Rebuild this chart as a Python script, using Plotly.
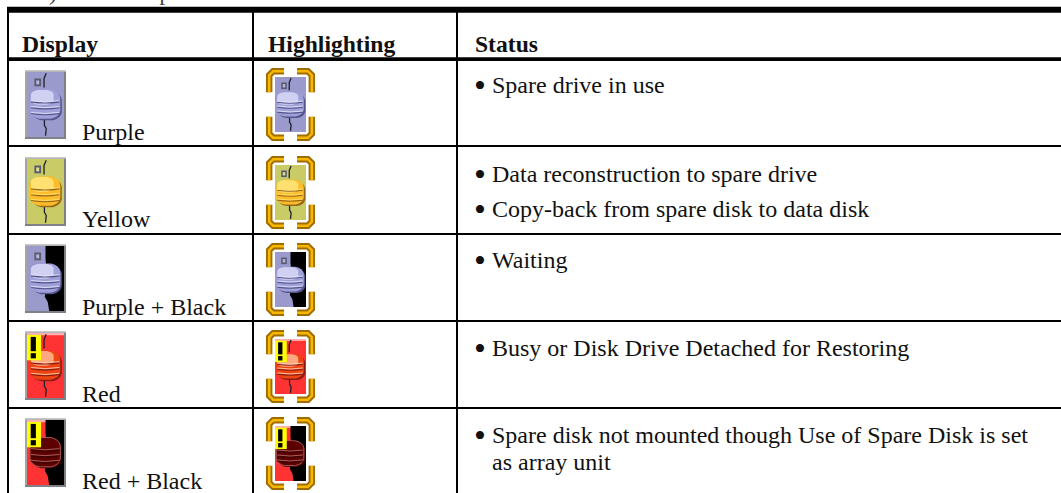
import plotly.graph_objects as go

HEADERS = ["Display", "Highlighting", "Status"]
DISPLAY_LABELS = ["Purple", "Yellow", "Purple + Black", "Red", "Red + Black"]
STATUS_LINES = [
    [("•", "Spare drive in use")],
    [("•", "Data reconstruction to spare drive"), ("•", "Copy-back from spare disk to data disk")],
    [("•", "Waiting")],
    [("•", "Busy or Disk Drive Detached for Restoring")],
    [("•", "Spare disk not mounted though Use of Spare Disk is set"), ("", "as array unit")],
]
CLIPPED_PREFIX = "5)"
CLIPPED_TITLE = "Hot Spare"

W, H = 1061, 493
COL_X = [8, 253, 457]
ROW_Y = [146, 234, 321, 408]
ICON_TOP = [70, 157, 244, 331, 418]
HL_TOP = [68, 156, 243, 330, 417]
LABEL_Y = [132, 219, 307, 394, 481]
STATUS_Y = [[85], [174, 209], [260], [348], [435, 462]]
PURPLE = dict(body="#9a9acc", light="#d0d0f2", mid="#a0a0d8", dark="#54548c", band="#e0e0f8", sq="#b8b8e0", edge=None)
YELLOW = dict(body="#c9cc66", light="#ffe070", mid="#fdbc28", dark="#97681c", band="#ffe070", sq="#e0e090", edge=None)
RED = dict(body="#ff3333", light="#ffa880", mid="#ee4412", dark="#8a1c14", band="#ffd0b0", sq="#ff9090", edge=None)
MAROON = dict(body="#ff3333", light="#5c0000", mid="#5c0000", dark="#3c0000", band="#b06868", sq="#ff9090", edge="#a85a5a")
STYLE = [
    dict(PURPLE, black=False, warn=False),
    dict(YELLOW, black=False, warn=False),
    dict(PURPLE, black=True, warn=False),
    dict(RED, black=False, warn=True),
    dict(MAROON, black=True, warn=True),
]

shapes, annos = [], []


def rect(x0, y0, x1, y1, fill):
    shapes.append(dict(type="rect", x0=x0, y0=y0, x1=x1, y1=y1, fillcolor=fill, line=dict(width=0), layer="above"))


def path(d, fill=None, lc=None, lw=1):
    s = dict(type="path", path=d, line=dict(color=lc or "rgba(0,0,0,0)", width=lw), layer="above")
    if fill:
        s["fillcolor"] = fill
    shapes.append(s)


def text(x, y, s, size, bold=False, color="#111111", paper=False):
    a = dict(x=x, y=y, text=f"<b>{s}</b>" if bold else s, showarrow=False, xanchor="left", yanchor="middle",
             align="left", borderpad=0, font=dict(family="Liberation Serif", size=size, color=color))
    if paper:
        a.update(yref="paper", xref="x")
    annos.append(a)


def drum(l, r, t, b):
    q = (b - t) * 0.22
    return (f"M{l},{t+q*1.3} Q{l+1},{t+q*.3} {l+(r-l)*.3},{t} L{l+(r-l)*.7},{t} Q{r-1},{t+q*.3} {r},{t+q*1.3} "
            f"L{r},{b-q*1.3} Q{r-1},{b-q*.3} {l+(r-l)*.7},{b} L{l+(r-l)*.3},{b} Q{l+1},{b-q*.3} {l},{b-q*1.3} Z")


def drive(x0, y0, x1, y1, st, wide):
    """Body of a drive icon in the box x0..x1, y0..y1."""
    w, h = x1 - x0, y1 - y0
    px = lambda f: x0 + w * f
    py = lambda f: y0 + h * f
    rect(x0, y0, x1, y1, st["body"])
    if st["warn"]:
        rect(x0, y0, x1, py(.035), "#ffb0b0")
    if st["black"]:
        path(f"M{px(.5)},{y0} L{x1},{y0} L{x1},{y1} L{px(.6)},{y1} L{px(.56)},{py(.86)} L{px(.48)},{py(.78)} "
             f"L{px(.55)},{py(.5)} L{px(.5)},{py(.2)} Z", fill="black")
    else:
        path(f"M{px(.52)},{py(.02)} L{px(.46)},{py(.1)} L{px(.46)},{py(.24)}", lc="#20202c", lw=1.3)
        path(f"M{px(.47)},{py(.7)} L{px(.47)},{py(.82)} L{px(.52)},{py(.87)} L{px(.5)},{py(.98)}", lc="#20202c", lw=1.3)
    if not st["warn"]:
        rect(px(.2), py(.1), px(.38), py(.22), "#5a5a70")
        rect(px(.25), py(.13), px(.33), py(.19), st["sq"])
    l, r, t, b = px(.04 if wide else .08), px(.93 if wide else .9), py(.27), py(.72)
    path(drum(l + 2, r + 1.5, t + 2, b + 1.5), fill=st["dark"])
    path(drum(l, r, t, b), fill=st["mid"], lc=st["edge"], lw=1 if st["edge"] else 0)
    path(drum(l + 1, r - w * .18, t + .5, t + (b - t) * .52), fill=st["light"])
    d = b - t
    for f in (.42, .62, .82):
        yy = t + d * f
        path(f"M{l+1},{yy} Q{(l+r)/2},{yy+d*.08} {r-1},{yy}", lc=st["dark"], lw=1.1)
        path(f"M{l+1},{yy-1.2} Q{(l+r)/2},{yy+d*.08-1.2} {r-1},{yy-1.2}", lc=st["band"], lw=.9)
    if st["warn"]:
        rect(x0, py(.03), px(.38), py(.42), "#ffff00")
        rect(px(.1), py(.06), px(.24), py(.28), "black")
        rect(px(.1), py(.31), px(.24), py(.39), "black")


def brackets(x0, y0, x1, y1):
    L, R, T, B = x0 + 3.2, x1 - 3.2, y0 + 3.2, y1 - 3.2
    for c, lw in (("#a06c00", 6.4, ), ("#f6b800", 2.6)):
        path(f"M{L+14.8},{T} L{L+4},{T} L{L},{T+4} L{L},{T+21}", lc=c, lw=lw)
        path(f"M{R-14.8},{T} L{R-4},{T} L{R},{T+4} L{R},{T+21}", lc=c, lw=lw)
        path(f"M{L+14.8},{B} L{L+4},{B} L{L},{B-4} L{L},{B-21}", lc=c, lw=lw)
        path(f"M{R-14.8},{B} L{R-4},{B} L{R},{B-4} L{R},{B-21}", lc=c, lw=lw)


# table rules
rect(COL_X[0] - 1, 7, COL_X[0] + 1, H, "black")
rect(COL_X[1] - 1, 10, COL_X[1] + 1, H, "black")
rect(COL_X[2] - 1, 10, COL_X[2] + 1, H, "black")
rect(COL_X[0] - 1, 6.7, W, 12.7, "black")
rect(COL_X[0] - 1, 57.3, W, 61, "black")
for y in ROW_Y:
    rect(COL_X[0], y - 1, W, y + 1, "black")

text(36, 1 + 8 / H, CLIPPED_PREFIX, 24, color="#444444", paper=True)
text(103, 1 + 8 / H, CLIPPED_TITLE, 24, color="#444444", paper=True)
for x, s in zip((21, 267, 474), HEADERS):
    text(x, 44, s, 23.6, bold=True)

for i, st in enumerate(STYLE):
    y = ICON_TOP[i]
    rect(25, y, 66, y + 69, "#a4a4a4")
    rect(25, y, 66, y + 1.5, "#c8c8c8")
    rect(64, y + 2, 66, y + 69, "#808080")
    rect(25, y + 67, 66, y + 69, "#808088")
    drive(27, y + 2, 64, y + 67, st, False)
    hy = HL_TOP[i]
    rect(273, hy + 8, 307, hy + 65, "white")
    drive(275, hy + 9, 306, hy + 64, st, True)
    brackets(266, hy, 315, hy + 73)
    text(81, LABEL_Y[i], DISPLAY_LABELS[i], 24)
    for (b, s), yy in zip(STATUS_LINES[i], STATUS_Y[i]):
        if b:
            text(473, yy, b, 34)
        text(491, yy, s, 24)

fig = go.Figure()
fig.update_layout(
    width=W, height=H, margin=dict(l=0, r=0, t=0, b=0), paper_bgcolor="white", plot_bgcolor="white",
    xaxis=dict(range=[0, W], visible=False, fixedrange=True),
    yaxis=dict(range=[H, 0], visible=False, fixedrange=True),
    shapes=shapes, annotations=annos, showlegend=False,
)
fig.write_html("out.html", config={"displayModeBar": False},
               post_script="document.body.style.margin='0';document.body.style.overflow='hidden';")
